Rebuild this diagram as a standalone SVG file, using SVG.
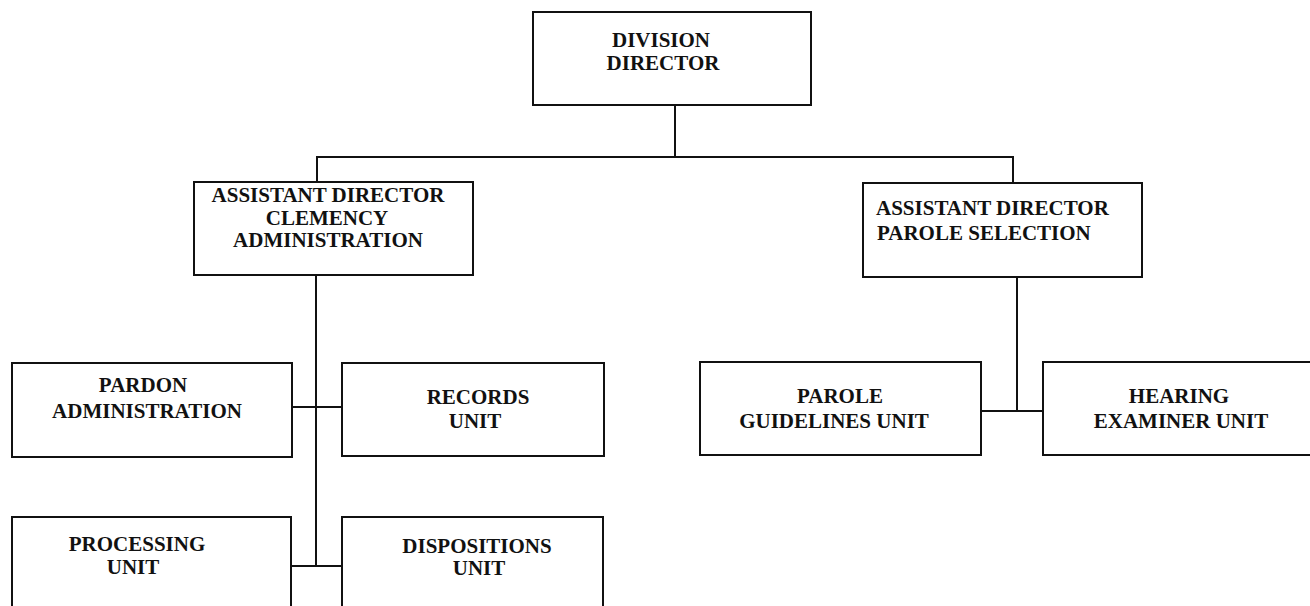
<svg xmlns="http://www.w3.org/2000/svg" width="1310" height="606" viewBox="0 0 1310 606">
<style>
.box{fill:#fff;stroke:#111;stroke-width:2}
.lbl{font-family:"Liberation Serif","Times New Roman",serif;font-weight:bold;font-size:21px;fill:#111}
.c{text-anchor:middle}
.conn line{stroke:#111;stroke-width:2}
</style>
<rect width="1310" height="606" fill="#fff"/>
<g id="connectors" class="conn">
<line x1="675" y1="105" x2="675" y2="157"/>
<line x1="316" y1="157" x2="1014" y2="157"/>
<line x1="317" y1="156" x2="317" y2="182"/>
<line x1="1013" y1="156" x2="1013" y2="183"/>
<line x1="316" y1="275" x2="316" y2="567"/>
<line x1="292" y1="407" x2="342" y2="407"/>
<line x1="291" y1="566" x2="342" y2="566"/>
<line x1="1017" y1="277" x2="1017" y2="412"/>
<line x1="981" y1="411" x2="1043" y2="411"/>
</g>
<g id="division-director">
<rect class="box" x="533" y="12" width="278" height="93"/>
<text class="lbl c" x="661" y="47">DIVISION</text>
<text class="lbl c" x="663" y="70">DIRECTOR</text>
</g>
<g id="ad-clemency">
<rect class="box" x="194" y="182" width="279" height="93"/>
<text class="lbl c" x="328" y="202">ASSISTANT DIRECTOR</text>
<text class="lbl c" x="327" y="225">CLEMENCY</text>
<text class="lbl c" x="328" y="247">ADMINISTRATION</text>
</g>
<g id="ad-parole">
<rect class="box" x="863" y="183" width="279" height="94"/>
<text class="lbl" x="876" y="215">ASSISTANT DIRECTOR</text>
<text class="lbl" x="877" y="240">PAROLE SELECTION</text>
</g>
<g id="pardon-admin">
<rect class="box" x="12" y="363" width="280" height="94"/>
<text class="lbl c" x="143" y="392">PARDON</text>
<text class="lbl c" x="147" y="418">ADMINISTRATION</text>
</g>
<g id="records-unit">
<rect class="box" x="342" y="363" width="262" height="93"/>
<text class="lbl c" x="478" y="404">RECORDS</text>
<text class="lbl c" x="475" y="428">UNIT</text>
</g>
<g id="processing-unit">
<rect class="box" x="12" y="517" width="279" height="100"/>
<text class="lbl c" x="137" y="551">PROCESSING</text>
<text class="lbl c" x="133" y="574">UNIT</text>
</g>
<g id="dispositions-unit">
<rect class="box" x="342" y="517" width="261" height="100"/>
<text class="lbl c" x="477" y="553">DISPOSITIONS</text>
<text class="lbl c" x="479" y="575">UNIT</text>
</g>
<g id="parole-guidelines">
<rect class="box" x="700" y="362" width="281" height="93"/>
<text class="lbl c" x="840" y="403">PAROLE</text>
<text class="lbl c" x="834" y="428">GUIDELINES UNIT</text>
</g>
<g id="hearing-examiner">
<rect class="box" x="1043" y="362" width="280" height="93"/>
<text class="lbl c" x="1179" y="403">HEARING</text>
<text class="lbl c" x="1181" y="428">EXAMINER UNIT</text>
</g>
</svg>
